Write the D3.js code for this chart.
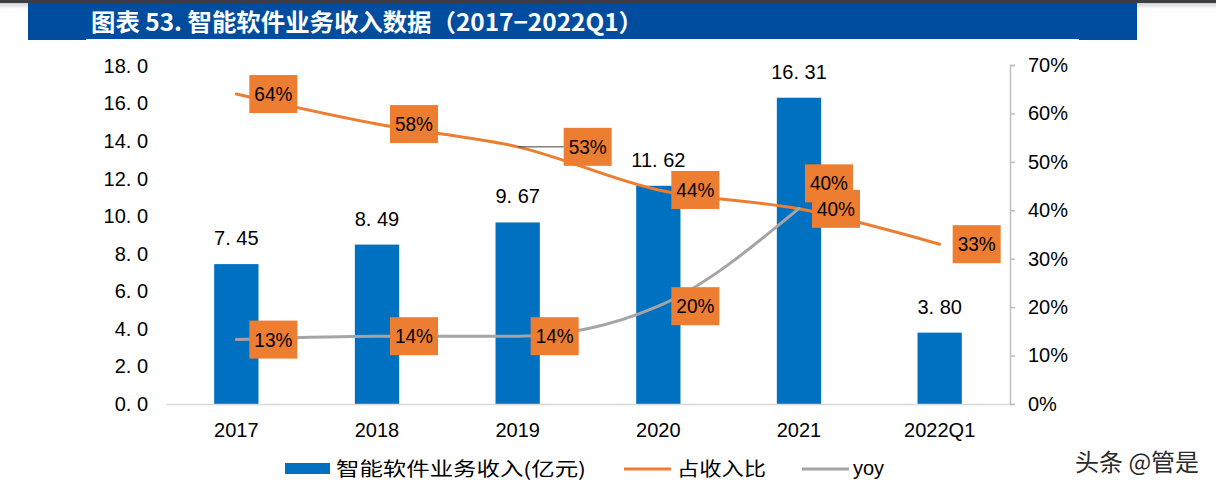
<!DOCTYPE html>
<html>
<head>
<meta charset="utf-8">
<script src="https://cdn.jsdelivr.net/npm/d3@7/dist/d3.min.js"></script>
<style>
  html, body { margin: 0; padding: 0; background: #ffffff; }
  svg { display: block; }
</style>
</head>
<body>
<svg id="chart" width="1216" height="494"></svg>
<script>
// ---------- data ----------
const categories = ["2017", "2018", "2019", "2020", "2021", "2022Q1"];
const revenue = [7.45, 8.49, 9.67, 11.62, 16.31, 3.80];           // 智能软件业务收入(亿元)
const share = [64.0, 57.8, 53.1, 44.2, 40.3, 33.0];               // 占收入比 (%)
const shareLabels = ["64%", "58%", "53%", "44%", "40%", "33%"];
const yoy = [13.3, 14.0, 14.0, 20.2, 40.4];                        // yoy (%)
const yoyLabels = ["13%", "14%", "14%", "20%", "40%"];
const leftTicks = [0, 2, 4, 6, 8, 10, 12, 14, 16, 18];
const rightTicks = [0, 10, 20, 30, 40, 50, 60, 70];
const titleText = "图表 53. 智能软件业务收入数据（2017−2022Q1）";
const legendNames = ["智能软件业务收入(亿元)", "占收入比", "yoy"];
const watermark = "头条 @管是";

// ---------- style ----------
const BLUE = "#0070C0", ORANGE = "#ED7D31", GRAY = "#A5A5A5";
const latin = "'Liberation Sans', Arial, sans-serif";
const cjk = "'Noto Sans CJK SC', 'Liberation Sans', sans-serif";

const svg = d3.select("#chart");

// ---------- header ----------
svg.append("rect").attr("x", 0).attr("y", 0).attr("width", 1216).attr("height", 3).attr("fill", "#3b3e42");
const grad = svg.append("defs").append("linearGradient").attr("id", "sh").attr("x1", 0).attr("x2", 0).attr("y1", 0).attr("y2", 1);
grad.append("stop").attr("offset", 0).attr("stop-color", "#cfcfcf");
grad.append("stop").attr("offset", 1).attr("stop-color", "#ffffff");
svg.append("rect").attr("x", 0).attr("y", 3).attr("width", 1216).attr("height", 6).attr("fill", "url(#sh)");
svg.append("rect").attr("x", 28).attr("y", 3).attr("width", 1109).attr("height", 37).attr("fill", "#004D9F");
svg.append("rect").attr("x", 86).attr("y", 39).attr("width", 993).attr("height", 2).attr("fill", "#ffffff");
svg.append("text").attr("x", 91).attr("y", 31)
  .attr("font-family", cjk).attr("font-weight", "bold").attr("font-size", 24)
  .attr("fill", "#ffffff").attr("textLength", 552).attr("lengthAdjust", "spacingAndGlyphs")
  .text(titleText);

// ---------- scales ----------
const x = d3.scaleBand().domain(categories).range([166, 1010]).padding(0);
const yL = d3.scaleLinear().domain([0, 18]).range([404, 66]);
const yR = d3.scaleLinear().domain([0, 70]).range([404, 65]);
const cx = d => x(d) + x.bandwidth() / 2;
const barW = x.bandwidth() * 0.315;

// ---------- left axis ----------
const gL = svg.append("g").attr("transform", "translate(150,0)")
  .call(d3.axisLeft(yL).tickValues(leftTicks).tickSize(0).tickPadding(2)
    .tickFormat(d => d3.format(".1f")(d).replace(".", ". ")));
gL.select(".domain").remove();
gL.selectAll("text").attr("font-family", latin).attr("font-size", 20).attr("fill", "#000");

// ---------- bars ----------
svg.append("g").selectAll("rect").data(categories).join("rect")
  .attr("x", d => cx(d) - barW / 2)
  .attr("y", (d, i) => yL(revenue[i]))
  .attr("width", barW)
  .attr("height", (d, i) => yL(0) - yL(revenue[i]))
  .attr("fill", BLUE);

svg.append("g").selectAll("text").data(categories).join("text")
  .attr("x", d => cx(d))
  .attr("y", (d, i) => yL(revenue[i]) - 19)
  .attr("text-anchor", "middle")
  .attr("font-family", latin).attr("font-size", 20).attr("fill", "#000")
  .text((d, i) => d3.format(".2f")(revenue[i]).replace(".", ". "));

// ---------- x axis ----------
const gX = svg.append("g").attr("transform", "translate(0,404)")
  .call(d3.axisBottom(x).tickSize(0).tickPadding(19));
gX.select(".domain").attr("stroke", "#D9D9D9").attr("stroke-width", 1.5);
gX.selectAll("text").attr("font-family", latin).attr("font-size", 20).attr("fill", "#000");

// ---------- right axis ----------
const gR = svg.append("g").attr("transform", "translate(1010,0)")
  .call(d3.axisRight(yR).tickValues(rightTicks).tickSize(5).tickPadding(13).tickFormat(d => d + "%"));
gR.select(".domain").attr("stroke", "#BFBFBF").attr("stroke-width", 1.5);
gR.selectAll(".tick line").attr("stroke", "#BFBFBF").attr("stroke-width", 1.5);
gR.selectAll("text").attr("font-family", latin).attr("font-size", 20).attr("fill", "#000");

// ---------- lines ----------
const lineShare = d3.line().x((d, i) => cx(categories[i])).y(d => yR(d)).curve(d3.curveCatmullRom.alpha(0.5));
const lineYoy = d3.line().x((d, i) => cx(categories[i])).y(d => yR(d)).curve(d3.curveMonotoneX);

svg.append("path").datum(share).attr("d", lineShare)
  .attr("fill", "none").attr("stroke", ORANGE).attr("stroke-width", 3).attr("stroke-linecap", "round");
svg.append("path").datum(yoy).attr("d", lineYoy)
  .attr("fill", "none").attr("stroke", GRAY).attr("stroke-width", 3).attr("stroke-linecap", "round");

// ---------- data labels ----------
const BOXW = 48, BOXH = 38;
function drawLabel(px, py, txt, dx, dy, leader) {
  const g = svg.append("g");
  if (leader) {
    g.append("line").attr("x1", px).attr("x2", px + dx).attr("y1", py + dy).attr("y2", py + dy)
      .attr("stroke", "#404040").attr("stroke-width", 1);
  }
  g.append("rect").attr("x", px + dx).attr("y", py + dy - BOXH / 2).attr("width", BOXW).attr("height", BOXH)
    .attr("fill", ORANGE);
  g.append("text").attr("x", px + dx + BOXW / 2).attr("y", py + dy + 7)
    .attr("text-anchor", "middle").attr("font-family", latin).attr("font-size", 20).attr("fill", "#000")
    .attr("textLength", 38).attr("lengthAdjust", "spacingAndGlyphs")
    .text(txt);
}
yoy.forEach((v, i) => {
  const last = i === yoy.length - 1;
  drawLabel(cx(categories[i]), yR(v), yoyLabels[i], last ? 6 : 13, last ? -25 : 0, false);
});
share.forEach((v, i) => {
  const moved = i === 2;
  drawLabel(cx(categories[i]), yR(v), shareLabels[i], moved ? 46 : 13, 0, moved);
});

// ---------- legend ----------
const lg = svg.append("g");
lg.append("rect").attr("x", 285).attr("y", 463).attr("width", 45).attr("height", 11).attr("fill", BLUE);
lg.append("text").attr("x", 336).attr("y", 476).attr("font-family", cjk).attr("font-size", 19).attr("fill", "#000")
  .attr("textLength", 250).attr("lengthAdjust", "spacingAndGlyphs").text(legendNames[0]);
lg.append("line").attr("x1", 624).attr("x2", 671).attr("y1", 469).attr("y2", 469).attr("stroke", ORANGE).attr("stroke-width", 3);
lg.append("text").attr("x", 677).attr("y", 476).attr("font-family", cjk).attr("font-size", 19).attr("fill", "#000")
  .attr("textLength", 89).attr("lengthAdjust", "spacingAndGlyphs").text(legendNames[1]);
lg.append("line").attr("x1", 802).attr("x2", 849).attr("y1", 469).attr("y2", 469).attr("stroke", GRAY).attr("stroke-width", 3);
lg.append("text").attr("x", 853).attr("y", 475).attr("font-family", latin).attr("font-size", 20).attr("fill", "#000")
  .text(legendNames[2]);

// ---------- watermark ----------
svg.append("text").attr("x", 1075).attr("y", 471)
  .attr("font-family", cjk).attr("font-size", 24).attr("fill", "#2a2a2a")
  .attr("stroke", "#ffffff").attr("stroke-width", 2).attr("paint-order", "stroke")
  .text(watermark);
</script>
</body>
</html>
